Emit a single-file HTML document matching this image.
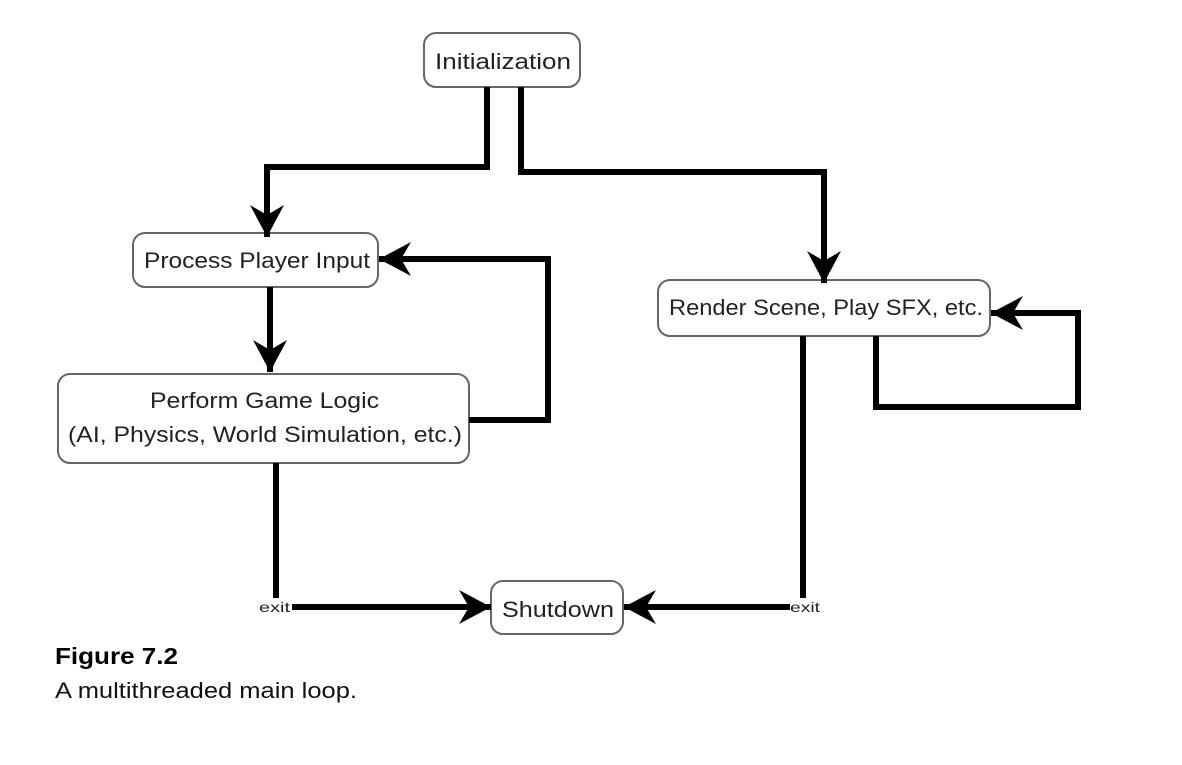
<!DOCTYPE html>
<html><head><style>
body{margin:0;background:#fff;}
svg{display:block}
text{font-family:"Liberation Sans","DejaVu Sans",sans-serif;fill:#222}
</style></head><body>
<svg width="1182" height="765" viewBox="0 0 1182 765" xmlns="http://www.w3.org/2000/svg">
<defs>
<marker id="a" markerWidth="36" markerHeight="36" refX="32" refY="17" orient="auto" markerUnits="userSpaceOnUse">
<path d="M0,0 L32,17 L0,34 L10,17 Z" fill="#000"/>
</marker>
</defs>
<g fill="#fff" stroke="#666" stroke-width="2">
<rect x="424" y="33" width="156" height="54" rx="12"/>
<rect x="133" y="233" width="245" height="54" rx="12"/>
<rect x="658" y="280" width="332" height="56" rx="12"/>
<rect x="58" y="374" width="411" height="89" rx="12"/>
<rect x="491" y="581" width="132" height="53" rx="12"/>
</g>
<g fill="none" stroke="#000" stroke-width="6" stroke-linejoin="miter">
<path d="M487,87 V167 H267 V237" marker-end="url(#a)"/>
<path d="M521,87 V172 H824 V283" marker-end="url(#a)"/>
<path d="M270,287 V372" marker-end="url(#a)"/>
<path d="M469,420 H548 V259 H379" marker-end="url(#a)"/>
<path d="M876,336 V407 H1078 V313 H991" marker-end="url(#a)"/>
<path d="M276,463 V598"/>
<path d="M803,336 V598"/>
<path d="M292,607 H491" marker-end="url(#a)"/>
<path d="M790,607 H624" marker-end="url(#a)"/>
</g>
<text x="435" y="69" font-size="22" textLength="136" lengthAdjust="spacingAndGlyphs">Initialization</text>
<text x="144" y="268" font-size="22" textLength="226" lengthAdjust="spacingAndGlyphs">Process Player Input</text>
<text x="669" y="315" font-size="22" textLength="314" lengthAdjust="spacingAndGlyphs">Render Scene, Play SFX, etc.</text>
<text x="150" y="408" font-size="22" textLength="229" lengthAdjust="spacingAndGlyphs">Perform Game Logic</text>
<text x="68" y="442" font-size="22" textLength="394" lengthAdjust="spacingAndGlyphs">(AI, Physics, World Simulation, etc.)</text>
<text x="502" y="617" font-size="22" textLength="112" lengthAdjust="spacingAndGlyphs">Shutdown</text>
<text x="259" y="612" font-size="14" textLength="31" lengthAdjust="spacingAndGlyphs">exit</text>
<text x="790" y="612" font-size="14" textLength="30" lengthAdjust="spacingAndGlyphs">exit</text>
<text x="55" y="664" font-size="23" font-weight="bold" style="fill:#000" textLength="123" lengthAdjust="spacingAndGlyphs">Figure 7.2</text>
<text x="55" y="698" font-size="22" style="fill:#111" textLength="302" lengthAdjust="spacingAndGlyphs">A multithreaded main loop.</text>
</svg>
</body></html>
